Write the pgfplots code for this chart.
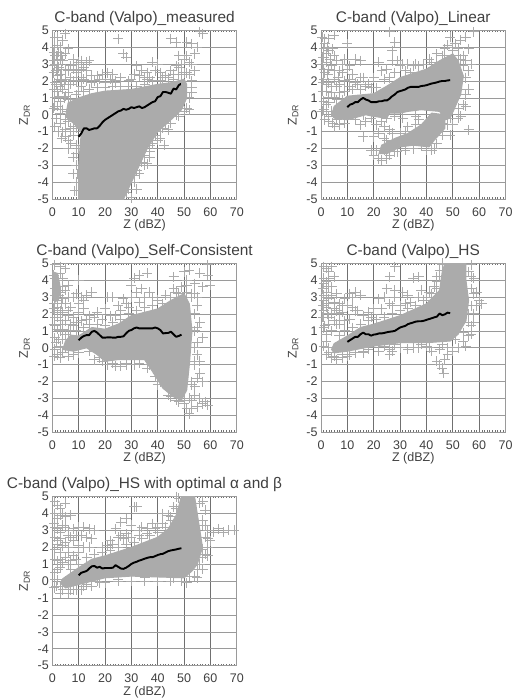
\documentclass[border=0pt]{standalone}
\usepackage{pgfplots}
\pgfplotsset{compat=1.18}
\usepackage{fontspec}
\setmainfont{Liberation Sans}
\definecolor{cloud}{HTML}{ABABAB}
\definecolor{txt}{HTML}{404040}
\definecolor{gv}{HTML}{707070}
\definecolor{gh}{HTML}{9A9A9A}
\pgfplotsset{panel/.style={
  scale only axis, width=184.5pt, height=169pt, anchor=south west,
  xmin=0,xmax=70,ymin=-5,ymax=5,
  xtick={0,10,...,70}, ytick={-5,-4,...,5},
  minor x tick num=9,
  grid=major,
  x grid style={gv,line width=0.6pt},
  y grid style={gh,line width=0.7pt},
  major tick length=0pt, minor tick length=1.8pt,
  minor tick style={gv,line width=0.5pt},
  axis line style={gh,line width=0.7pt},
  /pgf/number format/assume math mode=true,
  tick label style={font=\fontsize{12.5}{14}\selectfont,text=txt},
  xticklabel style={yshift=-4.5pt},
  label style={font=\fontsize{12.5}{14}\selectfont,text=txt},
  xlabel={Z (dBZ)}, xlabel style={yshift=3.5pt},
  ylabel={Z\textsubscript{DR}}, ylabel style={yshift=1pt},
  title style={font=\fontsize{15.4}{18}\selectfont,text=txt,yshift=-5pt},
  scatter/.style={only marks,mark=+,mark size=5pt,color=cloud,mark options={line width=1pt}},
  body/.style={fill=cloud,draw=cloud,line width=1pt},
  mean/.style={black,line width=1.9pt,no marks,line join=round},
}}
\begin{document}
\begin{tikzpicture}
\useasboundingbox (0,0) rectangle (514pt,698pt);
% ---------- measured
\begin{axis}[panel,at={(52.3pt,498.7pt)},title={C-band (Valpo)\_measured}]
\addplot[body] coordinates {(5,-0.1)(6,0.7)(10,1.0)(15,1.25)(20,1.4)(30,1.5)(40,1.8)(45,1.9)(50,2.1)(51,1.8)(51,1)(49,0.3)(45,-0.3)(40,-1)(36,-2)(33,-3)(30,-4)(27,-5)(10,-5)(10,-3)(11,-1)(8,-0.5)} -- cycle;
\addplot[scatter] coordinates {(1,4.6)(2,4.1)(1,4)(3,4)(0.5,3.7)(2,3.5)(5,4.8)(1,3)(2.5,2.8)(4,3.2)(0.5,2.5)(2,2.3)(3.5,2)(1,1.9)(5,2.1)(6,2.6)(7,1.8)(2,1.4)(4,1.5)(6,1.3)(1,1)(3,0.8)(0.5,0.4)(2,0.5)(1.5,-0.2)(3,-0.5)(4,-1)(6,-1.5)(5,-0.9)(8,-1.2)(9,3)(10,2.6)(11,3.2)(12,2.8)(13,3.1)(14,3.2)(11,2.2)(9,2)(13,2)(15,1.9)(19,2.4)(21,2.5)(22,2.1)(20,1.9)(17,2.3)(25,4.5)(27,3.6)(28,3.4)(26,2.2)(30,2.1)(32,2.9)(34,2.6)(33,2.3)(36,2.5)(38,3.1)(40,3)(39,2.6)(41,2.5)(43,2.3)(45,4.5)(47,4.3)(48,3.5)(47,2.9)(45,2.6)(50,3.3)(51,4.3)(53,4.2)(54,3.6)(52,3.1)(55,4)(56,4.9)(57,4.8)(42.5,-1.8)(45,-0.5)(44,-0.9)(48,-0.1)(46,0.2)(37,-2.5)(35,-3)(33,-3.5)(34,-2.2)(38,-1.7)(32,-4.4)(30,-4.9)(8,-2.5)(8,-3.5)(8.5,-4.5)(9,-1.8)(31,-3.6)(35,-2.4)(39,-1.2)(42,-0.8)(47,0)(51,0.4)(53,1.3)(53,2)(51,2.5)(48,2.4)(44,2.2)(10,1.4)(6,0.9)(4,0.3)(3,0.1)(4,4.4)(2,4.6)(3,3.3)(1.5,3.5)(0.7,2.9)(0.7,1.5)(3,1.7)(5,1.1)(7,-0.8)(6,-0.4)
(7,0.9)(9,1.2)(12,1.4)(14,1.5)(17,1.6)(20,1.6)(23,1.7)(26,1.7)(29,1.7)(32,1.7)(35,1.8)(38,2)(41,2)(46,2.1)(49,2.4)(52,1)(50,0.2)(43,-0.5)(41,-1)(37,-1.8)(34,-2.8)(31,-4)(28,-4.6)(9,-4)(9,-3)(10,-2)(9,-0.8)(6,0.2)(6,3.9)(8,2.7)(3,2.4)(7,2.2)(11,1.7)(16,2)(24,1.9)(36,2.1)(29,2)(49,1.9)(53,1.6)(54,2.6)(52,0.3)(40,-1.5)(44,-0.2)
(1,3.5)(2.5,3.7)(3.5,3.5)(0.5,3.2)(2,3)(3.5,2.7)(5,2.7)(1.5,2.6)(3,2.1)(4.5,1.8)(6,1.8)(1.5,1.8)(2.5,1.1)(4.5,1)(1,0.5)(3,0.3)(1,-0.7)(2.5,-1)(3.5,-1.4)(5,-1.3)(7,-1)(6,-2)(7,-1.7)(8,-0.7)(5,-0.3)(7,0.2)(8,2)(7,2.9)(5,3.6)(9,2.5)(10,3.1)(11,2.7)(12,2.1)(13,2.6)(8,3.3)(15,2.3)(18,2.1)(23,2.4)(24,2)(31,2.4)(35,2.2)(37,2.2)(42,2.2)(46,2.4)(48,2.8)(49,3)(51,3.5)(53,3)(50,2.5)(52,2.4)(41,-1.4)(37,-2.2)(34,-2.8)(32,-3.3)(29,-4.4)(31,-3)(36,-2.9)(9,-4.5)(9,-2.3)(9.5,-3.5)} ;
\addplot[mean] coordinates {(10,-1.3)(11,-1.1)(12,-0.8)(13,-0.8)(14,-0.9)(15,-0.85)(16,-0.8)(17,-0.8)(18,-0.65)(19,-0.45)(20,-0.3)(21,-0.2)(22,-0.1)(23,0)(24,0.1)(25,0.2)(26,0.25)(27,0.35)(28,0.3)(29,0.35)(30,0.45)(31,0.4)(32,0.45)(33,0.5)(34,0.4)(35,0.45)(36,0.55)(37,0.65)(38,0.75)(39,0.8)(40,1.05)(41,1.1)(42,1.35)(43,1.35)(44,1.3)(45,1.25)(46,1.55)(47,1.5)(48,1.75)(49,1.85)};
\end{axis}
% ---------- Linear
\begin{axis}[panel,at={(321pt,498.7pt)},title={C-band (Valpo)\_Linear}]
\addplot[body] coordinates {(4,0)(5,0.5)(10,1.1)(20,1.25)(25,1.7)(30,2.2)(40,2.7)(45,3.2)(50,3.6)(52,3.2)(54,2.3)(53,1.2)(51,0.5)(49,-0.2)(47,-0.3)(45,0.2)(38,0.3)(33,0.2)(30,0.1)(26,0.1)(25,-0.2)(20,-0.1)(17,0)(10,-0.3)(5,-0.2)} -- cycle;
\addplot[body] coordinates {(23,-1.8)(28,-1.4)(33,-1.1)(38,-0.6)(42,0.1)(47,0)(47,-0.8)(43,-1.5)(41,-1.9)(35,-1.8)(30,-1.9)(25,-2.3)(22,-2.3)} -- cycle;
\addplot[scatter] coordinates {(0.5,4.6)(1.5,4.2)(3,4.5)(5,4.7)(1,3.9)(3,3.8)(4.5,3.9)(0.7,3.4)(2,3.1)(4,2.9)(1,2.7)(2.5,2.4)(5,2.1)(1,2.1)(3,1.9)(6,1.7)(2,1.4)(4,1.3)(7,1.3)(1,0.8)(3,0.7)(0.5,0.2)(1.5,-0.3)(3,-0.4)(5,-0.7)(10,4.2)(9,3.3)(11,2.9)(13,3.3)(15,3.2)(12,2.4)(8,2.5)(16,2.2)(14,1.8)(18,1.8)(22,3.1)(25,2.7)(28,2.5)(24,2.1)(27,3.2)(30,2.9)(33,3)(26,4.9)(28,4.3)(27,3.8)(46,3.5)(48,4.1)(51,4.2)(53,4.4)(55,4.6)(58,4.9)(56,3.9)(55,3.2)(57,3)(56,1.5)(56,-0.9)(53,-0.1)(16,-1.3)(15,-0.6)(17,-0.4)(21,-0.6)(22,-1.1)(24,-0.7)(20,-1.3)(26,-0.9)(25,-1.5)(37,-0.3)(36,-0.1)(41,-0.5)(45,-0.8)(49,-1.2)(50,-0.6)(40,-2.1)(42,-2.1)(31,-0.2)(28,-0.1)(21,-2.1)(23,-2.7)(46,-1.2)(40,-0.9)(34,-1.4)(29,-1.8)(31,-1.5)(49,-0.2)(54,0.6)(54,2.9)(52,3.5)(44,3.1)(37,2.9)(34,2.5)(6,0.9)(9,1.4)(12,1.5)(19,1.6)
(0.7,1.4)(6,3.2)(7,2.6)(2,0.2)(4,0.2)(6,-0.3)(9,-0.5)(13,-0.3)(16,0)(19,-0.2)(23,-0.4)(25,-0.2)(32,2.6)(35,2.9)(39,3)(42,3.1)(47,3.5)(50,3.8)(53,3.3)(55,2.2)(55,1.2)(52,0.4)(48,-0.2)(36,-0.6)(32,-1)(27,-1.6)(24,-2.1)(26,-2.4)(28,-2.2)(32,-2.1)(35,-2)(38,-1.8)(44,-1.7)(21,1.6)(15,1.5)
(1,3.4)(2,3.6)(3.5,3.3)(5,3.5)(1.5,4.5)(2.5,4)(0.5,3)(1.5,2.5)(3,2.7)(5,2.6)(6.5,2.2)(0.7,1.9)(2,1.8)(4,1.7)(7,1.8)(9,2)(11,2.1)(10,2.7)(8,3)(3,1)(5,1)(2,0.6)(1,0.3)(3,-0.1)(4.5,-0.5)(7,-0.6)(8,0.9)(11,1.7)(13,1.9)(15,2.2)(17,1.7)(20,2.2)(23,2.6)(26,2.2)(29,3.2)(31,3)(36,3)(41,3.3)(44,3.6)(47,3.9)(50,4)(52,3.9)(54,3.5)(49,4.6)(56,2.6)(55,0.5)(53,1.5)(52,-0.2)(48,-0.6)(44,-1)(46,-0.5)(30,-1.1)(27,-1.1)(24,-1.4)(19,-2.1)(20,-2.4)(22,-2.6)(25,-2.6)(29,-2.2)(43,-2)(40,-1.7)(33,-0.7)(37,-1)} ;
\addplot[mean] coordinates {(10,0.45)(11,0.6)(12,0.65)(13,0.75)(14,0.75)(15,0.9)(16,1.0)(17,0.9)(18,0.85)(19,0.75)(20,0.75)(21,0.75)(22,0.8)(23,0.8)(24,0.85)(25,0.85)(26,0.95)(27,1.1)(28,1.2)(29,1.35)(30,1.4)(31,1.45)(32,1.5)(33,1.6)(34,1.65)(35,1.65)(36,1.65)(37,1.65)(38,1.7)(39,1.72)(40,1.75)(41,1.8)(42,1.85)(43,1.88)(44,1.92)(45,1.97)(46,2.0)(47,2.0)(48,2.03)(49,2.05)};
\end{axis}
% ---------- Self-Consistent
\begin{axis}[panel,at={(52.3pt,265.7pt)},title={C-band (Valpo)\_Self-Consistent}]
\addplot[body] coordinates {(4,-0.1)(5,0.4)(7,0.75)(10,0.7)(15,1.2)(20,1.1)(25,1.4)(30,1.9)(40,2.3)(45,2.8)(50,3.2)(52,2.6)(53,1)(52,-1)(51,-2.5)(49,-3.1)(46,-2.9)(42,-2.4)(38,-1.4)(35,-0.7)(30,-0.7)(25,-0.7)(20,-0.8)(17,-0.4)(13,0)(8,-0.2)} -- cycle;
\addplot[body] coordinates {(0,4.5)(2,4.4)(3,3.6)(2.5,2.9)(1,2.7)(0,3)} -- cycle;
\addplot[scatter] coordinates {(1,4.9)(3,4.8)(5,4.7)(4,4.1)(5,3.4)(4,2.9)(6,3)(0.5,2.3)(2,2.4)(4,2.1)(6,2.2)(1,1.8)(3,1.6)(5,1.6)(7,1.4)(2,1.1)(4,1.1)(1,0.6)(2.5,0.5)(1,-0.1)(3,-0.6)(0.7,-0.5)(10,4)(9,3.2)(11,3)(13,3.1)(15,3.3)(10,2.1)(12,2.3)(14,1.9)(16,1.8)(20,2.3)(21,3)(23,3)(26,2.2)(27,2.9)(30,3)(28,2.6)(31,4.1)(33,4.3)(36,4.4)(30,3.7)(34,3.5)(37,3.3)(32,3.3)(38,3)(46,4.2)(50,4.5)(52,4.6)(51,4)(54,3.8)(53,3.2)(56,4.4)(57,3.6)(59,4.9)(59,4.3)(60,3.7)(55,2.5)(56,1.5)(57,0.6)(55,-0.4)(56,-1.5)(54,-2.3)(57,-2)(53,-3.1)(55,-3.5)(51,-3.6)(52,-3.9)(58,-3.2)(59,-3.4)(56,-3)(48,-3.2)(40,-2.2)(39,-1.7)(36,-1.2)(31,-1)(26,-1.1)(21,-1)(19,-0.8)(16,-0.7)(10,-0.3)(6,-0.5)(54,2)(54,0)
(7,1)(9,1)(12,1.2)(14,1.4)(17,1.4)(20,1.3)(23,1.5)(26,1.7)(29,2)(32,2.2)(35,2.4)(38,2.5)(42,2.6)(45,3)(48,3.2)(51,3.3)(53,3)(54,1)(54,-1)(53,-2)(52,-3)(50,-3.3)(47,-3.1)(44,-2.8)(41,-2)(37,-1)(33,-0.9)(28,-0.9)(23,-0.9)(18,-0.6)(14,-0.2)(8,-0.4)(5,0)(3,0.1)(4,0.5)(6,0.5)(3,2.2)(6,1)(8,1.8)(1,1.3)(3,3.3)(1,3.5)(2,4)(0.5,4.3)
(1,4.1)(3,4.4)(2.5,3.1)(4,3.6)(6,3.7)(1,3.1)(2,2.8)(0.7,2.6)(3.5,2.6)(5,2.6)(7,2.4)(8,3)(1,2.1)(2,1.8)(4,1.4)(6,1.9)(8,1.3)(0.7,1.4)(3,1)(5,0.8)(1.5,0.3)(3,0)(2,-0.4)(4,-0.3)(9,1.5)(11,1.6)(13,1.7)(12,2.8)(10,2.6)(17,2.1)(19,1.7)(22,1.9)(25,2.5)(24,1.9)(29,2.4)(33,2.7)(35,3)(40,2.8)(43,3.1)(46,3.5)(49,3.6)(51,3.7)(47,3.3)(54,3.2)(55,3)(55,1.2)(55,0.3)(54,-0.8)(56,-0.8)(55,-1.8)(54,-2.8)(53,-2.2)(53,-3.6)(50,-3.1)(57,-3.3)(45,-2.9)(43,-2.2)(40,-1.5)(38,-0.9)(24,-1.1)(28,-1)} ;
\addplot[mean] coordinates {(10,0.45)(11,0.6)(12,0.7)(13,0.75)(14,0.75)(15,0.95)(16,1.0)(17,0.9)(18,0.75)(19,0.6)(20,0.6)(21,0.62)(22,0.62)(23,0.6)(24,0.6)(25,0.65)(26,0.65)(27,0.68)(28,0.85)(29,1.0)(30,1.05)(31,1.15)(32,1.2)(33,1.15)(34,1.15)(35,1.15)(36,1.15)(37,1.15)(38,1.15)(39,1.2)(40,1.15)(41,1.05)(42,0.85)(43,0.87)(44,0.88)(45,0.95)(46,0.8)(47,0.65)(48,0.7)(49,0.78)};
\end{axis}
% ---------- HS
\begin{axis}[panel,at={(321pt,265.7pt)},title={C-band (Valpo)\_HS}]
\addplot[body] coordinates {(4,-0.1)(5,0.25)(10,0.7)(15,1.2)(20,1.4)(30,1.9)(40,2.6)(45,3.4)(46,4.5)(47,5)(55,5)(55,4)(56,2.8)(55,1.6)(52,0.8)(49,0.4)(40,0.3)(30,0.3)(20,0.1)(10,-0.2)(5,-0.3)} -- cycle;
\addplot[scatter] coordinates {(1,4.8)(3,4.5)(4,4.8)(1,4.1)(3,4.1)(5,4.2)(0.7,3.5)(2,3.3)(4,3.1)(6,3.2)(1,2.8)(3,2.6)(1,2.2)(2.5,2)(5,2.3)(7,2)(9,2.9)(11,3.2)(13,3.3)(15,3.1)(12,2.4)(9,1.6)(11,1.7)(14,2.2)(6,1.4)(3,1.4)(1,1.2)(2,0.8)(1,0.1)(2,-0.4)(4,-0.6)(6,-0.7)(18,2.1)(20,2.3)(22,2.9)(24,3)(26,2.6)(28,3)(25,3.5)(26,4.2)(28,3.4)(28,4.8)(35,4.1)(37,4.2)(31,3.3)(33,3.1)(38,3.4)(42,3.2)(40,3)(44,4.2)(57,4.9)(58,4.1)(59,3.3)(60,2.8)(61,2.6)(58,2)(57,1.3)(56,0.7)(55,0.1)(52,0)(50,-0.2)(45,-0.1)(41,0)(33,-0.1)(26,-0.1)(26,-0.4)(16,-0.2)(10,-0.5)(44,-0.8)(45,-1)(47,-0.7)(46,-1.2)(46.5,-1.5)(48,-0.4)(42,-0.2)(37,0)
(7,0.7)(9,1)(12,1.2)(15,1.4)(18,1.6)(21,1.7)(24,1.8)(27,2)(30,2.2)(33,2.3)(36,2.5)(39,2.8)(42,3)(44,3.5)(45,4.2)(46,4.9)(56,4.5)(57,3.5)(57,2.5)(56,1.5)(54,0.9)(51,0.5)(46,0.2)(38,0.2)(28,0.2)(24,0.1)(18,-0.1)(13,-0.3)(8,-0.4)(5,0)(3,0)(2,3)(0.7,1.8)(8,2.5)(3,3.6)(56,2)
(2,4.7)(1,3.8)(2,3.9)(4,3.6)(1,3.1)(3,2.9)(5,2.7)(7,2.6)(0.7,2.5)(2,2.4)(4,2)(6,2.2)(8,2.1)(1,1.8)(3,1.8)(5,1.6)(7,1.4)(1.5,1.3)(4,1)(2,0.4)(3,-0.3)(5,-0.5)(8,-0.6)(11,-0.4)(10,2.5)(12,3)(13,2.2)(16,1.9)(19,1.8)(23,2.3)(27,2.5)(30,2.5)(32,2.6)(34,2.7)(37,3)(41,3.3)(43,3.6)(44,3.9)(45,4.6)(46,5)(57,4.2)(58,3.2)(59,2.5)(58,1.5)(57,0.8)(54,0.4)(48,0)(40,0.1)(35,0)(30,0)(22,-0.2)(16,-0.3)(27,-0.2)} ;
\addplot[mean] coordinates {(10,0.35)(11,0.45)(12,0.55)(13,0.65)(14,0.65)(15,0.8)(16,0.9)(17,0.8)(18,0.8)(19,0.72)(20,0.78)(21,0.8)(22,0.85)(23,0.85)(24,0.88)(25,0.92)(26,0.95)(27,0.97)(28,1.0)(29,1.1)(30,1.2)(31,1.25)(32,1.3)(33,1.4)(34,1.45)(35,1.5)(36,1.55)(37,1.57)(38,1.57)(39,1.6)(40,1.65)(41,1.7)(42,1.75)(43,1.8)(44,1.85)(45,2.03)(46,1.93)(47,1.98)(48,2.08)(49,2.05)};
\end{axis}
% ---------- HS optimal
\begin{axis}[panel,at={(52.3pt,32.3pt)},title={C-band (Valpo)\_HS with optimal α and β}]
\addplot[body] coordinates {(3,-0.1)(4,0.15)(10,0.8)(15,1.3)(20,1.5)(30,2)(40,2.6)(44,3.1)(47,3.9)(49,5)(54,5)(55,4)(56,3)(57,2)(55,1)(53,0.6)(50,0.2)(40,0.25)(30,0.3)(20,0.2)(10,-0.2)(5,-0.4)} -- cycle;
\addplot[scatter] coordinates {(1,4.7)(5,4.6)(3,4.3)(1,4)(3,3.9)(5,3.8)(0.7,3.4)(2,3.1)(4,3.3)(6,3)(8,3.1)(10,3.2)(12,3.2)(14,3.1)(16,3)(1,2.6)(3,2.5)(5,2.3)(8,2.4)(10,2.1)(12,2)(1,1.9)(3,1.7)(6,1.7)(8,1.5)(14,2)(2,1.2)(4,1.1)(6,1)(1,0.5)(3,0.8)(0.7,-0.4)(3,-0.7)(6,-0.7)(9,-0.5)(22,2.4)(24,3.1)(26,2.7)(28,3.7)(31,4.4)(30,3.3)(34,3.2)(33,2.7)(36,3.1)(38,3.4)(40,3.2)(29,2.6)(32,4.4)(42,4)(45,3.8)(58,4.2)(57,3.3)(59,3)(61,2.9)(63,3.1)(65,2.9)(67,3)(69,3)(60,2.4)(59,1.5)(57,0.7)(55,0.2)(59,2)(51,-0.1)(40,0)(30,0)(20,-0.1)(15,-0.3)
(7,0.7)(10,1)(13,1.4)(16,1.6)(19,1.7)(22,1.8)(25,2)(28,2.2)(31,2.3)(34,2.5)(37,2.7)(40,2.9)(43,3.2)(45,3.6)(47,4.3)(48,4.9)(56,4.6)(57,3.6)(58,2.6)(57,1.4)(55,0.7)(52,0.3)(46,0.2)(35,0.2)(25,0.1)(17,0)(12,-0.3)(8,-0.5)(5,0)(2,0.1)(3,-0.3)(7,3.9)(2,2.2)(6,2.7)(19,2)(25,2.6)
(2,4.5)(4,4)(2,3.7)(1,3.2)(3,2.9)(5,3.2)(7,2.6)(2,2.4)(4,2.1)(6,2)(9,2.7)(11,2.7)(13,2.6)(15,2.5)(1,1.3)(3,1.3)(5,1.4)(7,1.2)(9,1.3)(10,1.7)(2,0.7)(1,0.1)(1.5,-0.3)(4,-0.5)(7,-0.5)(11,-0.5)(13,-0.2)(18,-0.1)(25,0)(35,0)(45,0)(21,2.1)(23,2.2)(27,2.5)(30,2.6)(33,3)(36,2.8)(39,3.1)(42,3.4)(44,3.9)(46,4.4)(47,5)(57,4.7)(58,3.3)(59,2.5)(58,1.6)(56,1)(54,0.3)(49,0)(57,1.9)(28,2.8)(26,3.5)} ;
\addplot[mean] coordinates {(10,0.35)(11,0.5)(12,0.55)(13,0.6)(14,0.75)(15,0.88)(16,0.9)(17,0.8)(18,0.85)(19,0.75)(20,0.78)(21,0.78)(22,0.78)(23,0.8)(24,0.95)(25,0.85)(26,0.75)(27,0.73)(28,0.8)(29,0.9)(30,1.02)(31,1.1)(32,1.15)(33,1.22)(34,1.27)(35,1.33)(36,1.38)(37,1.42)(38,1.42)(39,1.48)(40,1.55)(41,1.6)(42,1.62)(43,1.7)(44,1.78)(45,1.82)(46,1.85)(47,1.88)(48,1.92)(49,1.95)};
\end{axis}
\end{tikzpicture}
\end{document}
